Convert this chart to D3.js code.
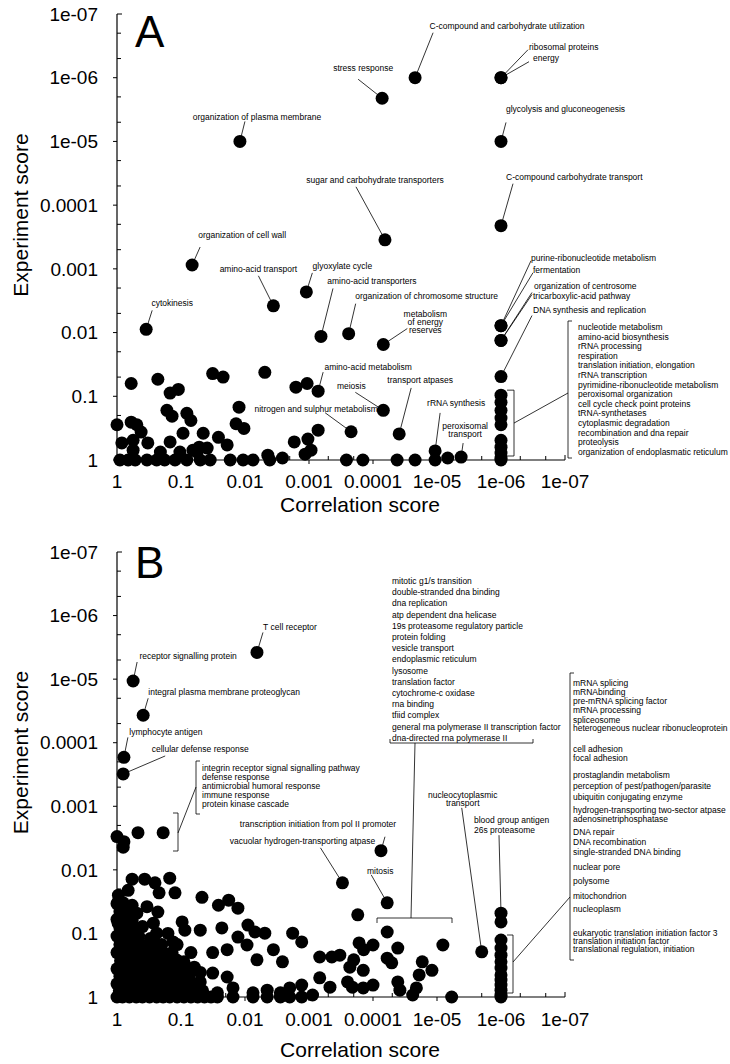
<!DOCTYPE html>
<html>
<head>
<meta charset="utf-8">
<script src="https://cdn.jsdelivr.net/npm/d3@7"></script>
<style>
  body { margin: 0; background: #fff; }
  text { font-family: "Liberation Sans", Arial, sans-serif; fill: #000; }
</style>
</head>
<body>
<div id="chart"></div>
<script>
const width = 730;
const height = 1064;

const majorTicks = [1, 0.1, 0.01, 0.001, 0.0001, 1e-5, 1e-6, 1e-7];
const tickLabels = ["1", "0.1", "0.01", "0.001", "0.0001", "1e-05", "1e-06", "1e-07"];
const minorSteps = [2, 5];

// ---- panel A ----
const aNames = [
  "organization of plasma membrane", "stress response",
  "C-compound and carbohydrate utilization", "ribosomal proteins", "energy",
  "glycolysis and gluconeogenesis", "C-compound carbohydrate transport",
  "sugar and carbohydrate transporters", "organization of cell wall",
  "amino-acid transport", "glyoxylate cycle", "cytokinesis",
  "amino-acid transporters", "organization of chromosome structure",
  "metabolism\nof energy\nreserves", "amino-acid metabolism", "meiosis",
  "nitrogen and sulphur metabolism", "transport atpases", "rRNA synthesis",
  "peroxisomal\ntransport", "purine-ribonucleotide metabolism", "fermentation",
  "organization of centrosome", "tricarboxylic-acid pathway",
  "DNA synthesis and replication",
];
const aCorr = [0.012, 7.2e-5, 2.2e-5, 1e-6, 1e-6, 1e-6, 1e-6, 6.5e-5, 0.067, 0.0036,
  0.0011, 0.35, 6.5e-4, 2.4e-4, 6.9e-5, 7.2e-4, 6.9e-5, 2.2e-4, 3.9e-5, 1.07e-5,
  4.2e-6, 1e-6, 1e-6, 1e-6, 1e-6, 1e-6];
const aExp = [1e-5, 2.1e-6, 1e-6, 1e-6, 1e-6, 1e-5, 2.1e-4, 3.5e-4, 8.7e-4, 0.0038,
  0.0023, 0.0089, 0.0115, 0.0104, 0.0154, 0.083, 0.166, 0.36, 0.39, 0.72,
  0.9, 0.0078, 0.0078, 0.0133, 0.0133, 0.049];

const aOther = [
  [1, 0.28], [0.6, 0.063], [0.23, 0.054], [0.6, 0.255], [0.49, 0.28], [0.42, 0.365],
  [0.84, 0.54], [0.56, 0.49], [0.33, 0.54], [0.56, 0.7], [0.148, 0.089], [0.11, 0.078],
  [0.166, 0.166], [0.138, 0.205], [0.081, 0.185], [0.07, 0.24], [0.093, 0.38],
  [0.148, 0.52], [0.032, 0.044], [0.022, 0.05], [0.045, 0.38], [0.026, 0.44],
  [0.019, 0.58], [0.0124, 0.148], [0.0138, 0.27], [0.0104, 0.32], [0.0049, 0.042],
  [0.0016, 0.072], [0.00107, 0.063], [0.0017, 0.52], [0.00104, 0.47], [0.00072, 0.34],
  [0.00093, 0.7], [0.00115, 0.81], [0.0044, 0.84], [0.0026, 0.93], [0.052, 0.63],
  [0.039, 0.65], [0.056, 0.75], [0.21, 0.75], [0.104, 0.75], [0.065, 0.7],
  [0.9, 1], [0.67, 1], [0.52, 1], [0.34, 1], [0.24, 1], [0.18, 1], [0.124, 1],
  [0.081, 1], [0.05, 1], [0.035, 1], [0.017, 1], [0.0107, 1], [0.0075, 1], [0.0041, 1],
  [0.00026, 1], [0.000144, 1], [4.2e-5, 1], [2.2e-5, 1], [1.07e-5, 1], [6.8e-6, 0.93],
];

const aGroupNames = [
  "nucleotide metabolism", "amino-acid biosynthesis", "rRNA processing", "respiration",
  "translation initiation, elongation", "rRNA transcription",
  "pyrimidine-ribonucleotide metabolism", "peroxisomal organization",
  "cell cycle check point proteins", "tRNA-synthetases", "cytoplasmic degradation",
  "recombination and dna repair", "proteolysis", "organization of endoplasmatic reticulum",
];
const aGroupCorr = 1e-6;
const aGroupExp = [0.096, 0.124, 0.166, 0.22, 0.28, 0.49, 0.63, 0.78, 0.93, 1];

// ---- panel B ----
const bNames = [
  "T cell receptor", "receptor signalling protein",
  "integral plasma membrane proteoglycan", "lymphocyte antigen",
  "cellular defense response", "transcription initiation from pol II promoter",
  "vacuolar hydrogen-transporting atpase", "mitosis", "nucleocytoplasmic\ntransport",
  "blood group antigen", "26s proteasome",
];
const bCorr = [0.0065, 0.56, 0.39, 0.78, 0.8, 7.5e-5, 3.0e-4, 6e-5, 2e-6, 1e-6, 1e-6];
const bExp = [3.8e-6, 1.07e-5, 3.7e-5, 1.7e-4, 3.1e-4, 0.005, 0.016, 0.033, 0.195, 0.048, 0.066];

const bLeftNames = [
  "integrin receptor signal signalling pathway", "defense response",
  "antimicrobial humoral response", "immune response", "protein kinase cascade",
];
const bLeftCorr = [1, 0.78, 0.8, 0.47, 0.19];
const bLeftExp = [0.003, 0.0036, 0.0044, 0.0026, 0.0026];

const bMidNames = [
  "mitotic g1/s transition", "double-stranded dna binding", "dna replication",
  "atp dependent dna helicase", "19s proteasome regulatory particle", "protein folding",
  "vesicle transport", "endoplasmic reticulum", "lysosome", "translation factor",
  "cytochrome-c oxidase", "rna binding", "tfiid complex",
  "general rna polymerase II transcription factor", "dna-directed rna polymerase II",
];

const bRightNames = [
  "mRNA splicing", "mRNAbinding", "pre-mRNA splicing factor", "mRNA processing",
  "spliceosome", "heterogeneous nuclear ribonucleoprotein", "cell adhesion",
  "focal adhesion", "prostaglandin metabolism", "perception of pest/pathogen/parasite",
  "ubiquitin conjugating enzyme", "hydrogen-transporting two-sector atpase",
  "adenosinetriphosphatase", "DNA repair", "DNA recombination",
  "single-stranded DNA binding", "nuclear pore", "polysome", "mitochondrion",
  "nucleoplasm", "eukaryotic translation initiation factor 3",
  "translation initiation factor", "translational regulation, initiation",
];
const bGroupCorr = 1e-6;
const bGroupExp = [0.127, 0.17, 0.22, 0.28, 0.35, 0.45, 0.54, 0.65, 0.78, 0.93, 1];

const bOther = [
  // scattered
  [0.58, 0.014], [0.37, 0.014], [0.255, 0.016], [0.15, 0.0135], [0.124, 0.023],
  [0.22, 0.023], [0.67, 0.021], [0.96, 0.032], [0.58, 0.036], [0.34, 0.038],
  [0.49, 0.048], [0.23, 0.046], [0.96, 0.069], [0.7, 0.089], [0.27, 0.069],
  [0.24, 0.099], [0.096, 0.066], [0.087, 0.089], [0.05, 0.089], [0.138, 0.2],
  [0.133, 0.136], [0.047, 0.027], [0.026, 0.036], [0.018, 0.03], [0.0129, 0.04],
  [0.023, 0.082], [0.0129, 0.114], [0.009, 0.074], [0.007, 0.095], [0.0049, 0.099],
  [0.0093, 0.152], [0.0018, 0.099], [0.0013, 0.136], [0.032, 0.2], [0.019, 0.18],
  [0.0065, 0.26], [0.0036, 0.18], [0.0026, 0.28], [0.000173, 0.051], [0.000165, 0.141],
  [0.00068, 0.235], [0.00044, 0.235], [0.00033, 0.22], [0.0002, 0.26], [0.00068, 0.5],
  [0.00047, 0.7], [0.00025, 0.58], [0.000142, 0.38], [0.002, 0.72], [0.0013, 0.65],
  [0.00088, 0.93], [0.027, 0.86], [0.0154, 0.72], [0.0075, 0.86], [0.0045, 0.78],
  [0.0028, 0.86], [0.05, 0.41], [0.032, 0.42], [0.019, 0.485], [0.0001, 0.152],
  [0.00014, 0.18], [6e-5, 0.095], [6e-5, 0.245], [5.1e-5, 0.29], [4.1e-5, 0.17],
  [4.1e-5, 0.58], [3.8e-5, 0.78], [1.7e-5, 0.28], [1.9e-5, 0.45], [1.2e-5, 0.38],
  [2.1e-5, 0.72], [2.4e-5, 0.93], [8.1e-6, 0.152], [5.9e-6, 1], [0.00023, 0.34],
  [0.00021, 0.7], [0.000142, 0.72], [0.0001, 0.65], [0.027, 1], [0.0154, 1],
  [0.0075, 1], [0.0045, 1], [0.0028, 1], [0.002, 1], [0.0013, 1],
  // dense cluster
  [1, 1], [0.82, 1], [0.64, 1], [0.5, 1], [0.4, 1], [0.31, 1], [0.24, 1], [0.19, 1],
  [0.15, 1], [0.115, 1], [0.09, 1], [0.07, 1], [0.055, 1], [0.043, 1], [0.034, 1],
  [0.92, 0.8], [0.72, 0.82], [0.56, 0.79], [0.45, 0.81], [0.35, 0.8], [0.27, 0.78],
  [0.21, 0.82], [0.165, 0.8], [0.13, 0.79], [0.1, 0.81], [0.078, 0.8], [0.06, 0.78],
  [0.046, 0.8], [1, 0.62], [0.8, 0.6], [0.63, 0.63], [0.5, 0.6], [0.39, 0.62],
  [0.3, 0.6], [0.235, 0.63], [0.185, 0.6], [0.145, 0.62], [0.112, 0.6], [0.086, 0.62],
  [0.066, 0.6], [0.05, 0.58], [0.9, 0.47], [0.71, 0.48], [0.55, 0.46], [0.43, 0.47],
  [0.34, 0.48], [0.26, 0.46], [0.205, 0.47], [0.16, 0.48], [0.125, 0.45], [0.097, 0.47],
  [0.074, 0.45], [1, 0.36], [0.78, 0.35], [0.61, 0.37], [0.48, 0.36], [0.37, 0.35],
  [0.29, 0.37], [0.225, 0.35], [0.175, 0.36], [0.135, 0.35], [0.105, 0.37], [0.08, 0.36],
  [0.062, 0.34], [0.88, 0.27], [0.68, 0.28], [0.53, 0.26], [0.42, 0.27], [0.32, 0.28],
  [0.25, 0.26], [0.195, 0.28], [0.152, 0.27], [0.118, 0.26], [0.09, 0.28], [1, 0.2],
  [0.77, 0.21], [0.6, 0.19], [0.47, 0.2], [0.36, 0.21], [0.28, 0.19], [0.22, 0.2],
  [0.172, 0.21], [0.07, 0.2], [0.9, 0.15], [0.7, 0.155], [0.54, 0.145], [0.42, 0.15],
  [0.33, 0.16], [0.255, 0.14], [0.2, 0.15], [0.115, 0.15], [1, 0.11], [0.78, 0.115],
  [0.6, 0.105], [0.46, 0.11], [0.3, 0.12], [0.16, 0.1], [0.9, 0.082], [0.68, 0.08],
  [0.52, 0.085], [0.4, 0.078], [1, 0.06], [0.76, 0.058], [0.58, 0.062], [0.9, 0.045],
  [0.7, 0.043], [1, 0.034], [0.8, 0.033], [0.95, 0.025],
];

// ---- layout (label offsets from the point: text dx, dy, line end dx, dy, anchor) ----
const aLabelLayout = [
  [17, -24, 5, -20], [-19, -30, -24, -19], [92, -52, 18, -45], [28, -31, 27, -28, "start"],
  [32, -20, 28, -16, "start"], [5, -32, 5, -19, "start"], [5, -49, 12, -42, "start"],
  [-10, -60, -29, -53], [50, -30, 8, -18], [-15, -37, -15, -30], [36, -26, 6, -19],
  [26, -26, 6, -19], [51, -55, 12, -48], [78, -38, 7, -30], [42, -30, 24, -16],
  [50, -24, 5, -19], [-32, -24, -28, -18], [-35, -23, -26, -19], [21, -54, 12, -46],
  [21, -48, 5, -38], [4, -31, 2, -14], [30, -68, 30, -65, "start"],
  [32, -56, 32, -53, "start"], [33, -54, 31, -48, "start"], [32, -44, 31, -46, "start"],
  [32, -67, 31, -61, "start"],
];
const bLabelLayout = [
  [33, -25, 6, -20], [55, -25, 4, -19], [81, -23, 5, -17], [42, -25, 4, -20],
  [77, -25, 42, -18], [-63, -27, 4, -14], [-40, -42, -22, -35], [-7, -32, -16, -28],
  [-19, -157, -20, -144], [-27, -93, -2, -78, "start"], [-27, -92, null, null, "start"],
];

const dotR = 6.5;
const labelFont = 8.5;
const lineStep = 8;

const svg = d3.select("#chart").append("svg").attr("width", width).attr("height", height);

const line = (g, x1, y1, x2, y2, w = 0.8) =>
  g.append("line").attr("x1", x1).attr("y1", y1).attr("x2", x2).attr("y2", y2)
    .attr("stroke", "#000").attr("stroke-width", w);

const path = (g, d) =>
  g.append("path").attr("d", d).attr("fill", "none").attr("stroke", "#000").attr("stroke-width", 0.8);

const drawAxes = (g, x, y, p) => {
  const x0 = x(1), y0 = y(1), x1 = x(1e-7), y1 = y(1e-7);
  line(g, x0, y0, x0, y1, 1.2);
  line(g, x0, y0, x1, y0, 1.2);
  const minors = majorTicks.slice(1).flatMap((m) => minorSteps.map((s) => s * m));
  majorTicks.slice(0, -1).forEach((t) => {
    line(g, x0 - 4, y(t), x0, y(t), 1);
    line(g, x(t), y0, x(t), y0 + 4, 1);
  });
  line(g, x0, y1, x0 + 5, y1, 1);
  line(g, x1, y0, x1, y0 - 5, 1);
  minors.forEach((t) => {
    line(g, x0, y(t), x0 + 4, y(t), 1);
    line(g, x(t), y0, x(t), y0 - 4, 1);
  });

  g.selectAll(".ylab").data(majorTicks).join("text").attr("class", "ylab")
    .attr("x", 98).attr("y", (d) => y(d)).attr("dy", "0.35em")
    .attr("text-anchor", "end").attr("font-size", 19)
    .text((d, i) => tickLabels[i]);
  g.selectAll(".xlab").data(majorTicks).join("text").attr("class", "xlab")
    .attr("x", (d) => x(d)).attr("y", y0 + p.xLabelGap)
    .attr("text-anchor", "middle").attr("font-size", 19)
    .text((d, i) => tickLabels[i]);

  g.append("text").attr("x", 360).attr("y", y0 + p.xTitleGap)
    .attr("text-anchor", "middle").attr("font-size", 21).text("Correlation score");
  g.append("text")
    .attr("transform", `translate(28, ${(y0 + y1) / 2 - 22}) rotate(-90)`)
    .attr("text-anchor", "middle").attr("font-size", 21).text("Experiment score");
  g.append("text").attr("x", 135).attr("y", y1 + p.letterGap)
    .attr("font-size", 44).text(p.letter);
};

const drawLabels = (g, x, y, names, corr, exp, layout) => {
  names.forEach((name, i) => {
    const px = x(corr[i]), py = y(exp[i]);
    const [tx, ty, lx, ly, anchor] = layout[i];
    if (lx !== null) line(g, px, py, px + lx, py + ly);
    const t = g.append("text").attr("font-size", labelFont)
      .attr("text-anchor", anchor || "middle");
    name.split("\n").forEach((s, k) => {
      t.append("tspan").attr("x", px + tx).attr("y", py + ty + k * lineStep)
        .attr("dy", "0.35em").text(s);
    });
  });
};

const textList = (g, names, xPos, yPos) => {
  g.selectAll(null).data(names).join("text")
    .attr("x", xPos).attr("y", (d, i) => yPos[i]).attr("dy", "0.35em")
    .attr("font-size", labelFont).text((d) => d);
};

const drawDots = (g, x, y, pts) => {
  g.selectAll(null).data(pts).join("circle")
    .attr("cx", (d) => x(d[0])).attr("cy", (d) => y(d[1])).attr("r", dotR)
    .attr("fill", "#000");
};

// ---- Panel A ----
{
  const g = svg.append("g");
  const x = d3.scaleLog().domain([1, 1e-7]).range([117, 565]);
  const y = d3.scaleLog().domain([1, 1e-7]).range([460, 14]);
  drawAxes(g, x, y, { letter: "A", xLabelGap: 28, xTitleGap: 52, letterGap: 33 });

  const gx = x(aGroupCorr);
  const top = y(aGroupExp[0]) - 5, bot = y(1) - 4;
  path(g, `M${gx + 6},${top}H${gx + 13}V${bot}H${gx + 6}`);
  line(g, gx + 13, (top + bot) / 2, 568, 393);
  path(g, `M572,321H568V458H572`);
  textList(g, aGroupNames, 578, aGroupNames.map((d, i) => 327 + i * 9.6));

  drawLabels(g, x, y, aNames, aCorr, aExp, aLabelLayout);
  drawDots(g, x, y, aOther);
  drawDots(g, x, y, aGroupExp.map((e) => [aGroupCorr, e]));
  drawDots(g, x, y, aCorr.map((c, i) => [c, aExp[i]]));
}

// ---- Panel B ----
{
  const g = svg.append("g");
  const x = d3.scaleLog().domain([1, 1e-7]).range([117, 565]);
  const y = d3.scaleLog().domain([1, 1e-7]).range([997, 552]);
  drawAxes(g, x, y, { letter: "B", xLabelGap: 29, xTitleGap: 60, letterGap: 26 });

  // left bracket group
  path(g, `M173,813H178V851H173`);
  line(g, 178, 833, 196, 787);
  path(g, `M200,761H196V814H200`);
  textList(g, bLeftNames, 202, bLeftNames.map((d, i) => 768 + i * 9));

  // middle bracket group
  textList(g, bMidNames, 392, bMidNames.map((d, i) => 581 + i * 11.2));
  path(g, `M390,739V743H533V739`);
  line(g, 415, 743, 411, 918);
  path(g, `M377,923V918H452V923`);

  // right bracket group
  const gx = x(bGroupCorr);
  path(g, `M${gx + 6},935H${gx + 12}V993H${gx + 6}`);
  line(g, gx + 12, 962, 570, 897);
  path(g, `M574,673H570V960H574`);
  const bRightY = [683, 692, 701, 710, 720, 728, 749, 758, 775, 786, 797, 810, 819,
    832, 842, 852, 867, 881, 896, 909, 933, 941, 949];
  textList(g, bRightNames, 573, bRightY);

  drawLabels(g, x, y, bNames, bCorr, bExp, bLabelLayout);
  drawDots(g, x, y, bOther);
  drawDots(g, x, y, bLeftCorr.map((c, i) => [c, bLeftExp[i]]));
  drawDots(g, x, y, bGroupExp.map((e) => [bGroupCorr, e]));
  drawDots(g, x, y, bCorr.map((c, i) => [c, bExp[i]]));
}
</script>
</body>
</html>
